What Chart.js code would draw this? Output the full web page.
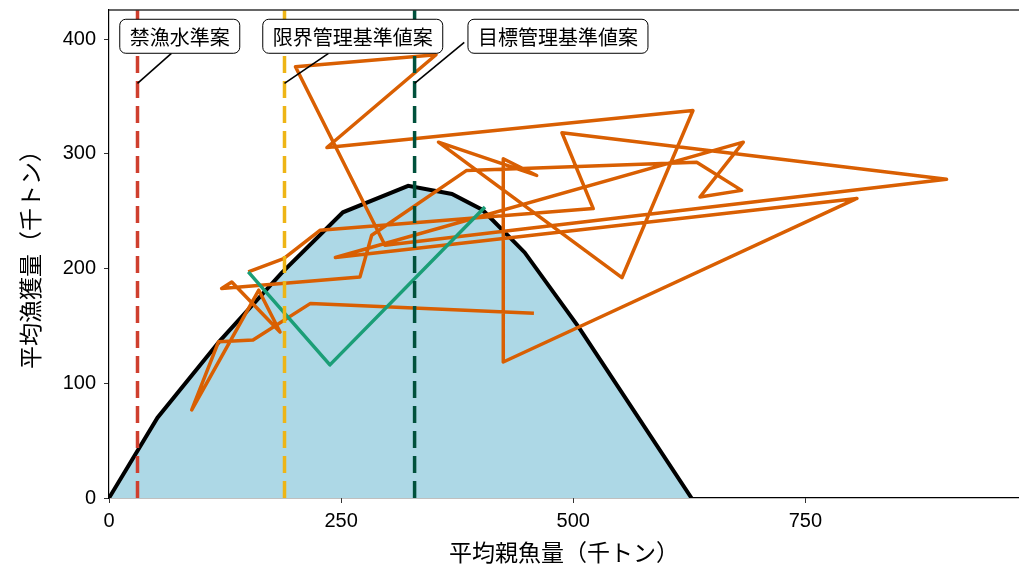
<!DOCTYPE html>
<html><head><meta charset="utf-8">
<script src="https://cdn.jsdelivr.net/npm/chart.js@4.4.1/dist/chart.umd.min.js"></script>
<style>html,body{margin:0;padding:0;background:#fff;}#wrap{width:1019px;height:572px;}</style>
</head><body><div id="wrap"><canvas id="c" width="1019" height="572"></canvas></div>
<script>
// ---- data ----
const curveSSB   = [0, 52.2, 119.4, 185.7, 251.9, 322.2, 369.3, 402.4, 447.6, 505.8, 627.3];
const curveCatch = [0, 70, 137, 196, 249, 272, 265, 251, 214, 149, 0];

const obsSSB   = [457.6, 217.0, 155.1, 118.0, 89.1, 161.3, 184.2, 132.2, 121.3, 270.3, 282.9, 385.2, 632.9, 681.3, 636.4, 683.1, 243.8, 805.5, 424.6, 424.6, 460.6, 354.8, 552.4, 628.9, 234.7, 352.2, 200.8, 297.2, 902.0, 487.8, 521.5, 227.2, 188.1, 150.0];
const obsCatch = [161.1, 169.6, 137.7, 136.2, 76.8, 181.1, 144.6, 188.3, 182.6, 192.7, 229.0, 285.5, 292.7, 268.1, 262.3, 310.1, 209.6, 261.1, 118.5, 295.7, 281.1, 310.1, 192.0, 337.7, 305.5, 386.3, 375.9, 220.3, 277.7, 318.3, 252.2, 233.3, 208.7, 197.0];

const projSSB   = [150.0, 237.9, 404.9];
const projCatch = [197.0, 116.0, 253.6];

const refNames = ['禁漁水準案', '限界管理基準値案', '目標管理基準値案'];
const refSSB   = [30.7, 189.0, 329.1];
const labelSSB = [76.2, 262.5, 483.5];
const labelCatch = [402.4, 402.4, 402.4];
const segFromSSB = [67.2, 236.4, 382.6];
const segFromCatch = [387.5, 387.5, 397.0];
const segToCatch = 361.4;

const xTicks = [0, 250, 500, 750];
const yTicks = [0, 100, 200, 300, 400];
const xMax = 980, yMax = 425.3;

// ---- styles ----
const refColors = ['#CF3F2E', '#EEB516', '#00513C'];
const FONT = "'Liberation Sans', Arial, 'Noto Sans CJK JP', sans-serif";
const CJK = "'Noto Sans CJK JP', sans-serif";

const pts = (xs, ys) => xs.map((x, i) => ({x, y: ys[i]}));

const datasets = [];
refSSB.forEach((v, i) => datasets.push({
  data: [{x: v, y: 0}, {x: v, y: yMax}], showLine: true, pointRadius: 0,
  borderColor: refColors[i], borderWidth: 3.5, borderDash: [17, 8], clip: false
}));
datasets.push({data: pts(projSSB, projCatch), showLine: true, pointRadius: 0,
  borderColor: '#1B9E77', borderWidth: 3.5, borderJoinStyle: 'round'});
datasets.push({data: pts(obsSSB, obsCatch), showLine: true, pointRadius: 0,
  borderColor: '#D95F02', borderWidth: 3.5, borderJoinStyle: 'round'});
datasets.push({data: pts(curveSSB, curveCatch), showLine: true, pointRadius: 0,
  borderColor: '#000', borderWidth: 4, backgroundColor: '#ADD8E6', fill: 'origin'});

const extras = {
  id: 'extras',
  afterDraw(chart) {
    const {ctx, chartArea: a, scales: {x, y}} = chart;
    ctx.save();
    ctx.strokeStyle = '#333'; ctx.lineWidth = 1.5;
    ctx.beginPath(); ctx.moveTo(a.left, a.top); ctx.lineTo(a.right, a.top); ctx.stroke();
    ctx.font = '20px ' + CJK;
    ctx.textAlign = 'center'; ctx.textBaseline = 'middle';
    refNames.forEach((t, i) => {
      ctx.strokeStyle = '#000'; ctx.lineWidth = 1.6;
      ctx.beginPath();
      ctx.moveTo(x.getPixelForValue(refSSB[i]), y.getPixelForValue(segToCatch));
      ctx.lineTo(x.getPixelForValue(segFromSSB[i]), y.getPixelForValue(segFromCatch[i]));
      ctx.stroke();
      const cx = x.getPixelForValue(labelSSB[i]), cy = y.getPixelForValue(labelCatch[i]);
      const w = ctx.measureText(t).width + 20, h = 34;
      ctx.beginPath();
      ctx.roundRect(cx - w / 2, cy - h / 2, w, h, 6);
      ctx.fillStyle = '#fff'; ctx.fill();
      ctx.strokeStyle = '#000'; ctx.lineWidth = 1; ctx.stroke();
      ctx.fillStyle = '#000';
      ctx.fillText(t, cx, cy + 1);
    });
    ctx.restore();
  }
};

new Chart(document.getElementById('c'), {
  type: 'scatter',
  data: {datasets},
  plugins: [extras],
  options: {
    responsive: false, animation: false, devicePixelRatio: 1,
    layout: {padding: {top: 10, right: 0, left: 0, bottom: 0}},
    plugins: {legend: {display: false}, tooltip: {enabled: false}},
    elements: {line: {tension: 0}},
    scales: {
      x: {
        type: 'linear', min: 0, max: xMax,
        afterBuildTicks: s => { s.ticks = xTicks.map(v => ({value: v})); },
        afterFit: s => { s.height = 74; s.paddingLeft = 0; s.paddingRight = 0; },
        grid: {drawOnChartArea: false, drawTicks: true, tickLength: 5, color: '#333'},
        border: {display: true, color: '#000', width: 1.2},
        ticks: {color: '#000', font: {size: 20, family: FONT}, padding: 6, maxRotation: 0},
        title: {display: true, text: '平均親魚量（千トン）', color: '#000',
          font: {size: 23, family: CJK}, padding: {top: 0, bottom: 6}}
      },
      y: {
        type: 'linear', min: 0, max: yMax,
        afterBuildTicks: s => { s.ticks = yTicks.map(v => ({value: v})); },
        afterFit: s => { s.width = 109; s.paddingTop = 0; s.paddingBottom = 0; },
        grid: {drawOnChartArea: false, drawTicks: true, tickLength: 5, color: '#333'},
        border: {display: true, color: '#000', width: 1.2},
        ticks: {color: '#000', font: {size: 20, family: FONT}, padding: 8},
        title: {display: true, text: '平均漁獲量（千トン）', color: '#000',
          font: {size: 23, family: CJK}, padding: {top: 16, bottom: 0}}
      }
    }
  }
});
</script></body></html>
